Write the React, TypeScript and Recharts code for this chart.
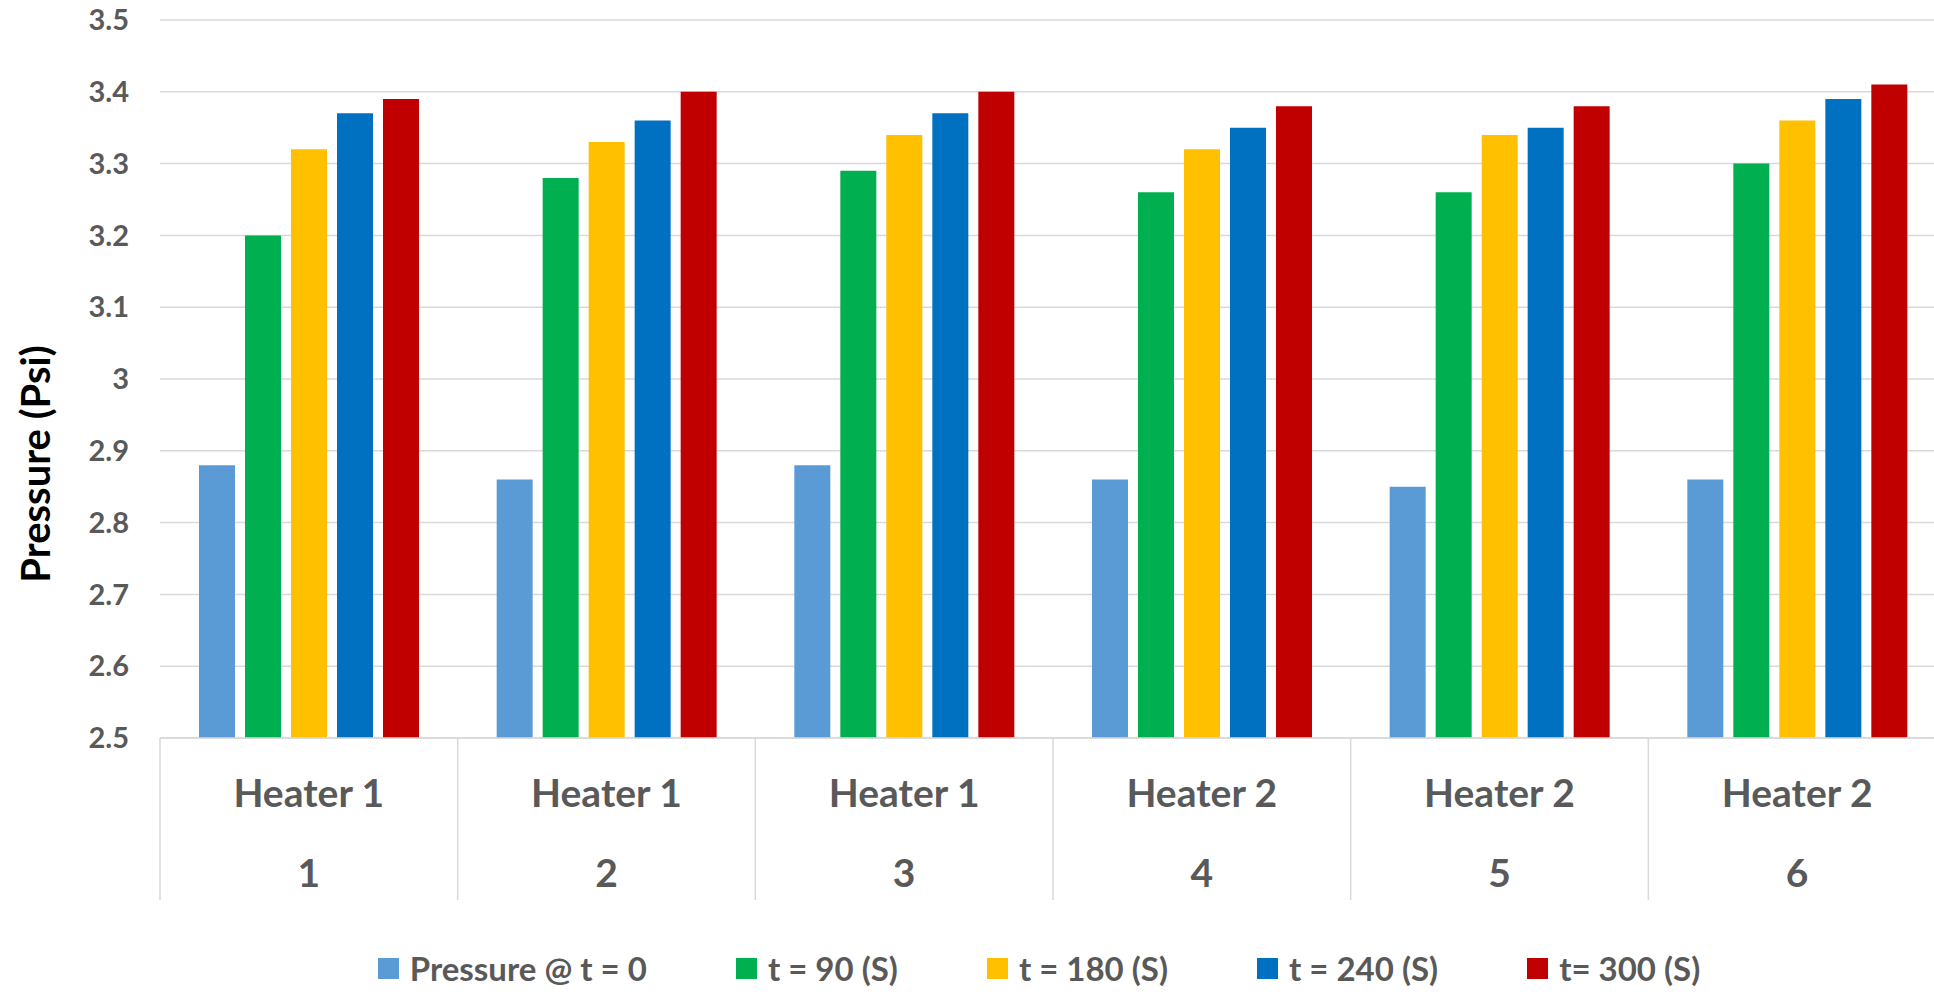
import React from 'react';
import { BarChart, Bar, XAxis, YAxis, CartesianGrid, Legend, Label } from 'recharts';

const categories = ['1', '2', '3', '4', '5', '6'];
const heaters = ['Heater 1', 'Heater 1', 'Heater 1', 'Heater 2', 'Heater 2', 'Heater 2'];
const p0 = [2.88, 2.86, 2.88, 2.86, 2.85, 2.86];
const t90 = [3.2, 3.28, 3.29, 3.26, 3.26, 3.3];
const t180 = [3.32, 3.33, 3.34, 3.32, 3.34, 3.36];
const t240 = [3.37, 3.36, 3.37, 3.35, 3.35, 3.39];
const t300 = [3.39, 3.4, 3.4, 3.38, 3.38, 3.41];
const yTicks = [2.5, 2.6, 2.7, 2.8, 2.9, 3, 3.1, 3.2, 3.3, 3.4, 3.5];

const seriesNames = ['Pressure @ t = 0', 't = 90 (S)', 't = 180 (S)', 't = 240 (S)', 't= 300 (S)'];
const seriesKeys = ['p0', 't90', 't180', 't240', 't300'];
const seriesColors = ['#5B9BD5', '#00B050', '#FFC000', '#0070C0', '#C00000'];

const data = categories.map((c, i) => ({
  id: c,
  heater: heaters[i],
  p0: p0[i],
  t90: t90[i],
  t180: t180[i],
  t240: t240[i],
  t300: t300[i],
}));

const FONT = 'Lato, "Open Sans", sans-serif';
const GRAY = '#595959';
const GRID = '#D9D9D9';

const CategoryTick = (props: any) => {
  const { x, y, payload, index, visibleTicksCount } = props;
  const half = payload && typeof payload.offset === 'number' && payload.offset > 0 ? payload.offset : 148.8;
  const isLast = index === (visibleTicksCount ?? categories.length) - 1;
  return (
    <g>
      <line x1={x - half} y1={y} x2={x - half} y2={y + 162} stroke={GRID} strokeWidth={1.5} />
      {isLast && <line x1={x + half} y1={y} x2={x + half} y2={y + 162} stroke={GRID} strokeWidth={1.5} />}
      <text x={x} y={y + 69} textAnchor="middle" fill={GRAY} fontFamily={FONT} fontWeight={700} fontSize={39}>
        {heaters[index]}
      </text>
      <text x={x} y={y + 149} textAnchor="middle" fill={GRAY} fontFamily={FONT} fontWeight={700} fontSize={39}>
        {payload.value}
      </text>
    </g>
  );
};

const LegendContent = () => (
  <div
    style={{
      height: 94,
      boxSizing: 'border-box',
      display: 'flex',
      justifyContent: 'center',
      alignItems: 'flex-end',
      paddingLeft: 132,
      paddingBottom: 6,
      fontFamily: FONT,
      fontWeight: 700,
      fontSize: 33,
      color: GRAY,
    }}
  >
    {seriesNames.map((name, i) => (
      <div
        key={name}
        style={{ display: 'flex', alignItems: 'center', marginRight: i === seriesNames.length - 1 ? 0 : 89, whiteSpace: 'nowrap' }}
      >
        <span style={{ display: 'inline-block', width: 21, height: 21, background: seriesColors[i], marginRight: 11 }} />
        <span style={{ lineHeight: '40px' }}>{name}</span>
      </div>
    ))}
  </div>
);

const YTitle = (props: any) => {
  const vb = props.viewBox || { x: 0, y: 20, width: 160, height: 718 };
  const cx = vb.x + 35;
  const cy = vb.y + vb.height / 2 + 85;
  return (
    <text
      x={cx}
      y={cy}
      transform={`rotate(-90, ${cx}, ${cy})`}
      textAnchor="middle"
      dominantBaseline="central"
      fill="#000000"
      fontFamily={FONT}
      fontWeight={700}
      fontSize={40}
    >
      Pressure (Psi)
    </text>
  );
};

export default function App() {
  return (
    <div
      style={{
        position: 'fixed',
        left: 0,
        top: 0,
        width: 1934,
        height: 994,
        overflow: 'hidden',
        background: '#ffffff',
      }}
    >
      <BarChart
        width={1946}
        height={994}
        data={data}
        margin={{ top: 20, right: 0, bottom: 0, left: 0 }}
        barCategoryGap="13.1%"
        barGap={10}
      >
        <CartesianGrid vertical={false} stroke={GRID} strokeWidth={1.5} />
        <XAxis
          dataKey="id"
          interval={0}
          height={162}
          tickSize={0}
          tickMargin={0}
          tickLine={false}
          axisLine={{ stroke: GRID, strokeWidth: 1.5 }}
          tick={<CategoryTick />}
        />
        <YAxis
          width={160}
          domain={[2.5, 3.5]}
          ticks={yTicks}
          interval={0}
          axisLine={false}
          tickLine={false}
          tickSize={0}
          tickMargin={31}
          tick={{ fill: GRAY, fontFamily: FONT, fontWeight: 700, fontSize: 29 }}
        >
          <Label content={<YTitle />} />
        </YAxis>
        <Legend verticalAlign="bottom" content={<LegendContent />} />
        {seriesKeys.map((k, i) => (
          <Bar key={k} dataKey={k} name={seriesNames[i]} fill={seriesColors[i]} isAnimationActive={false} />
        ))}
      </BarChart>
    </div>
  );
}
